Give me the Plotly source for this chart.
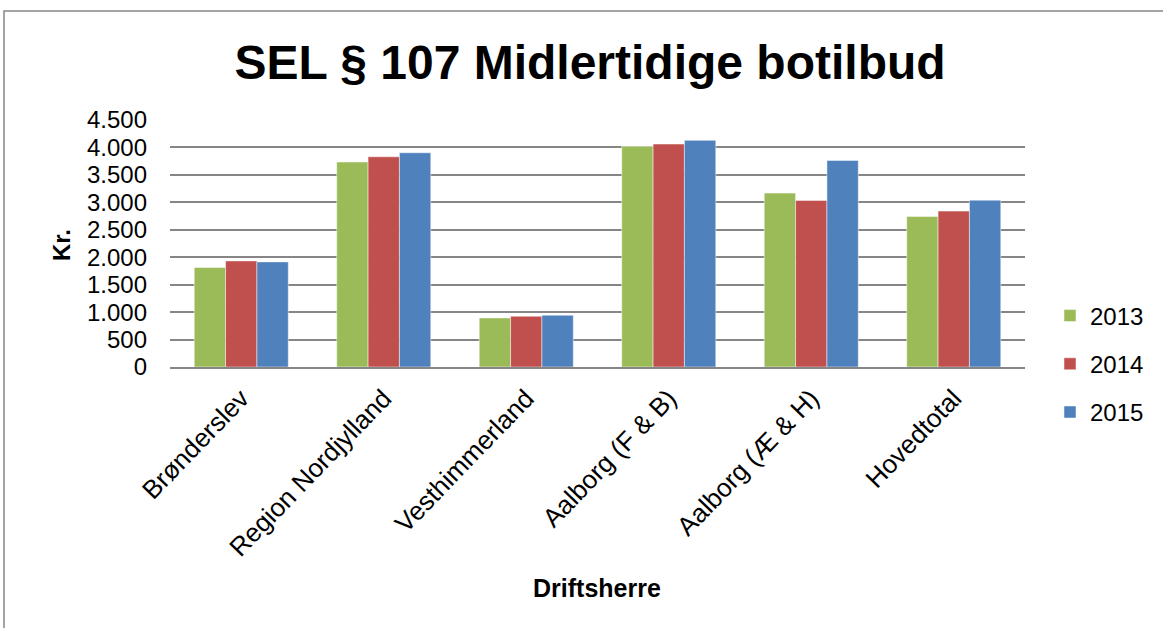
import plotly.graph_objects as go

categories = ["Brønderslev", "Region Nordjylland", "Vesthimmerland",
              "Aalborg (F & B)", "Aalborg (Æ & H)", "Hovedtotal"]
v2013 = [1813, 3734, 894, 4020, 3168, 2743]
v2014 = [1933, 3830, 925, 4062, 3035, 2840]
v2015 = [1915, 3903, 943, 4129, 3764, 3040]
series_names = ["2013", "2014", "2015"]
colors = ["#9BBB59", "#C0504D", "#4F81BD"]
y_ticks = [0, 500, 1000, 1500, 2000, 2500, 3000, 3500, 4000, 4500]

FONT = "Arial, Liberation Sans, sans-serif"

fig = go.Figure()
for name, vals, col in zip(series_names, [v2013, v2014, v2015], colors):
    fig.add_trace(go.Bar(
        x=categories, y=vals, name=name, legendgroup=name,
        marker=dict(color=col, line=dict(color="rgba(255,255,255,0.6)", width=0.8)),
    ))

W, H = 1163, 628
L, R, T, B = 170, W - 1025, 120, H - 367
pw, ph = W - L - R, H - T - B

def px(xp):
    return (xp - L) / pw

def py(yp):
    return (H - B - yp) / ph

fig.update_layout(
    width=W, height=H,
    margin=dict(l=L, r=R, t=T, b=B, autoexpand=False),
    paper_bgcolor="white", plot_bgcolor="white",
    separators=",.",
    barmode="group", bargap=0.34, bargroupgap=0,
    font=dict(family=FONT, color="black", size=24),
    title=dict(text="<b>SEL § 107 Midlertidige botilbud</b>",
               x=590 / W, xanchor="center", y=1 - 62 / H, yanchor="middle",
               yref="container", font=dict(size=48, family=FONT, color="black")),
    legend=dict(x=px(1050), xanchor="left", y=py(364), yanchor="middle",
                font=dict(size=24, family=FONT), traceorder="grouped",
                tracegroupgap=14, itemwidth=30, bgcolor="rgba(0,0,0,0)"),
    xaxis=dict(tickangle=-46, tickfont=dict(size=26, family=FONT),
               showline=True, linecolor="#868686", linewidth=1.5,
               ticks="", showgrid=False, ticklabelstandoff=4),
    yaxis=dict(range=[0, 4500], tickvals=y_ticks, tickformat=",d",
               tickfont=dict(size=24, family=FONT),
               showgrid=True, gridcolor="#868686", gridwidth=1.5,
               zeroline=False, showline=False, ticks="", ticklen=0,
               ticklabelstandoff=22),
    annotations=[
        dict(text="<b>Kr.</b>", xref="paper", yref="paper", x=px(61), y=py(245),
             textangle=-90, showarrow=False, font=dict(size=24, family=FONT),
             xanchor="center", yanchor="middle"),
        dict(text="<b>Driftsherre</b>", xref="paper", yref="paper", x=px(597), y=py(588),
             showarrow=False, font=dict(size=25, family=FONT),
             xanchor="center", yanchor="middle"),
    ],
    shapes=[
        dict(type="rect", xref="paper", yref="paper",
             x0=px(4), y0=py(700), x1=px(1200), y1=py(11),
             line=dict(color="#868686", width=1.5), fillcolor="rgba(0,0,0,0)", layer="below"),
    ],
)

fig.write_html("out.html", config={"displayModeBar": False},
               post_script="document.body.style.margin='0';document.body.style.overflow='hidden';")
